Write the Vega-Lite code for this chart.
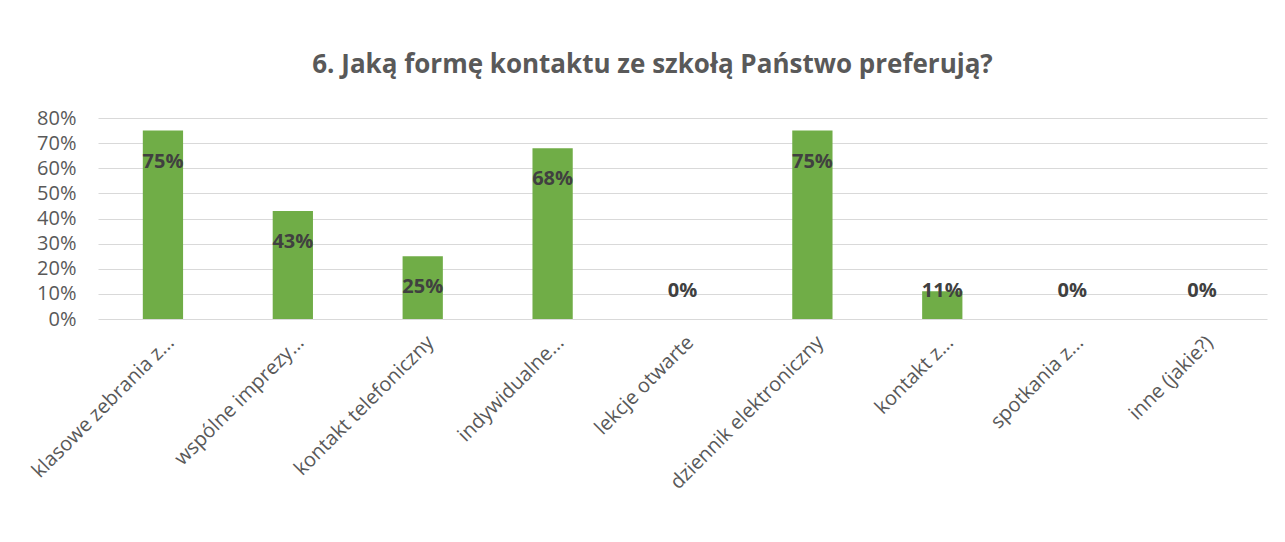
{
  "$schema": "https://vega.github.io/schema/vega-lite/v6.json",
  "autosize": {"type": "none"},
  "padding": {"left": 98, "top": 118, "right": 18, "bottom": 223},
  "width": 1169,
  "height": 201,
  "background": "white",
  "config": {"view": {"stroke": null}},
  "title": {
    "text": "6. Jaką formę kontaktu ze szkołą Państwo preferują?",
    "font": "Open Sans",
    "fontSize": 26,
    "fontWeight": "bold",
    "color": "#595959",
    "anchor": "middle",
    "dx": -30,
    "offset": 30
  },
  "data": {
    "values": [
      {"kategoria": "klasowe zebrania z...", "wartosc": 0.75},
      {"kategoria": "wspólne imprezy...", "wartosc": 0.43},
      {"kategoria": "kontakt telefoniczny", "wartosc": 0.25},
      {"kategoria": "indywidualne...", "wartosc": 0.68},
      {"kategoria": "lekcje otwarte", "wartosc": 0.0},
      {"kategoria": "dziennik elektroniczny", "wartosc": 0.75},
      {"kategoria": "kontakt z...", "wartosc": 0.11},
      {"kategoria": "spotkania z...", "wartosc": 0.0},
      {"kategoria": "inne (jakie?)", "wartosc": 0.0}
    ]
  },
  "encoding": {
    "x": {
      "field": "kategoria",
      "type": "nominal",
      "sort": null,
      "scale": {"paddingInner": 0.69, "paddingOuter": 0.345},
      "axis": {
        "title": null,
        "labelAngle": -45,
        "labelAlign": "right",
        "labelBaseline": "middle",
        "labelFont": "Open Sans",
        "labelFontSize": 20,
        "labelColor": "#595959",
        "labelPadding": 20,
        "labelOffset": 8,
        "ticks": false,
        "domain": false,
        "labelLimit": 0,
        "labelOverlap": false
      }
    }
  },
  "layer": [
    {
      "mark": {"type": "bar", "color": "#70AD47"},
      "encoding": {
        "y": {
          "field": "wartosc",
          "type": "quantitative",
          "scale": {"domain": [0, 0.8], "nice": false},
          "axis": {
            "title": null,
            "format": ".0%",
            "values": [0, 0.1, 0.2, 0.3, 0.4, 0.5, 0.6, 0.7, 0.8],
            "labelFont": "Open Sans",
            "labelFontSize": 20,
            "labelColor": "#595959",
            "labelPadding": 22,
            "labelOverlap": false,
            "labelFlush": false,
            "ticks": false,
            "domain": false,
            "grid": true,
            "gridColor": "#D9D9D9",
            "gridWidth": 1
          }
        }
      }
    },
    {
      "transform": [
        {"calculate": "max(datum.wartosc - 0.124, 0.11)", "as": "pozycja"}
      ],
      "mark": {
        "type": "text",
        "font": "Open Sans",
        "fontSize": 20,
        "fontWeight": "bold",
        "color": "#404040",
        "baseline": "middle"
      },
      "encoding": {
        "y": {
          "field": "pozycja",
          "type": "quantitative",
          "scale": {"domain": [0, 0.8], "nice": false},
          "axis": {
            "title": null,
            "format": ".0%",
            "values": [0, 0.1, 0.2, 0.3, 0.4, 0.5, 0.6, 0.7, 0.8],
            "labelFont": "Open Sans",
            "labelFontSize": 20,
            "labelColor": "#595959",
            "labelPadding": 22,
            "labelOverlap": false,
            "labelFlush": false,
            "ticks": false,
            "domain": false,
            "grid": true,
            "gridColor": "#D9D9D9",
            "gridWidth": 1
          }
        },
        "text": {"field": "wartosc", "type": "quantitative", "format": ".0%"}
      }
    }
  ]
}
